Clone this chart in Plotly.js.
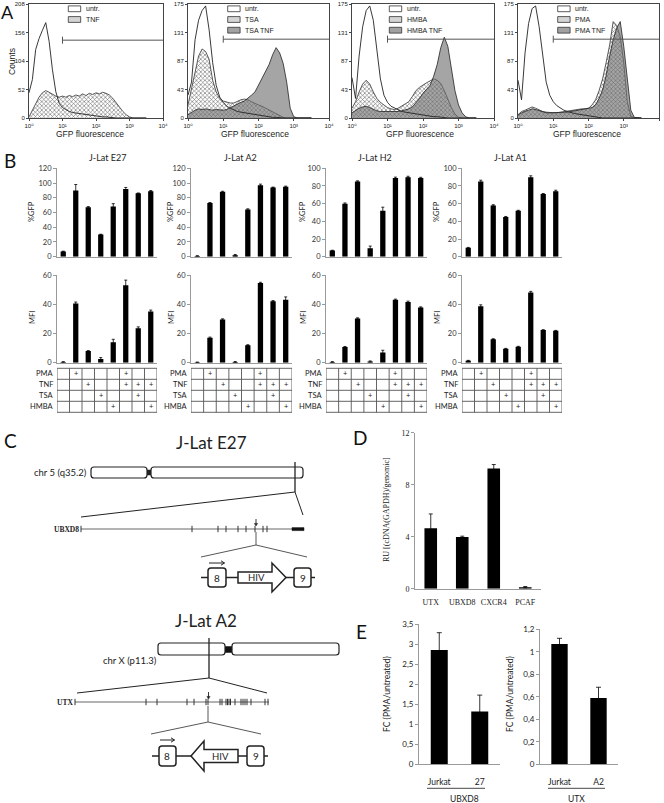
<!DOCTYPE html>
<html><head><meta charset="utf-8">
<script src="https://cdn.plot.ly/plotly-3.0.1.min.js"></script>
<style>html,body{margin:0;padding:0;background:#fff}#chart{width:664px;height:803px}</style>
</head><body><div id="chart"></div>
<script>
// ---------------- DATA ----------------
// Panel A: GFP fluorescence histograms (bins = log10 fluorescence)
const LOG_BINS=[0.0,0.1,0.2,0.3,0.4,0.5,0.6,0.7,0.8,0.9,1.0,1.1,1.2,1.3,1.4,1.5,1.6,1.7,1.8,1.9,2.0,2.1,2.2,2.3,2.4,2.5,2.6,2.7,2.8,2.9,3.0,3.1,3.2,3.3,3.4,3.5];
const UNTR_1=[46,70,125,145,160,174,140,88,48,27,19,15,12,10,9,8,7,6,5,4,3,3,2,2,1,1,0,0,0,0,0,0,0,0,0,0];
const TNF_1=[2,15,28,38,46,50,47,43,40,38,40,38,41,39,42,40,44,41,45,43,46,44,47,45,42,36,28,19,12,6,2,0,0,0,0,0];
const UNTR_2=[35,55,120,150,165,172,135,85,50,32,24,18,15,12,10,9,8,7,6,5,4,3,2,2,1,1,0,0,0,0,0,0,0,0,0,0];
const TSA_2=[20,45,72,95,106,102,90,58,40,30,26,24,23,23,26,28,29,28,25,22,20,18,15,12,10,6,3,1,0,0,0,0,0,0,0,0];
const TSATNF_2=[5,9,12,14,13,14,13,12,13,12,12,13,16,18,21,24,26,30,35,40,50,60,70,82,97,108,100,84,55,15,2,0,0,0,0,0];
const UNTR_3=[62,30,95,140,165,172,150,100,60,35,24,18,15,12,10,9,8,7,6,5,5,4,3,2,2,1,1,0,0,0,0,0,0,0,0,0];
const HMBA_3=[15,25,40,52,58,52,40,30,24,20,16,14,13,15,18,21,25,33,42,47,51,54,57,60,58,53,42,28,16,6,1,0,0,0,0,0];
const HMBATNF_3=[8,12,15,17,18,16,13,11,10,10,9,9,10,10,11,12,14,17,23,30,38,44,50,64,82,108,124,110,75,42,20,8,2,0,0,0];
const UNTR_4=[58,28,100,145,168,172,140,95,55,35,25,19,15,12,10,8,7,6,5,4,3,2,2,1,0,0,0,0,0,0,0,0,0,0,0,0];
const PMA_4=[5,10,12,14,17,15,12,10,9,8,8,8,9,9,10,11,12,13,14,14,15,20,28,42,60,85,112,148,142,125,85,25,3,0,0,0];
const PMATNF_4=[4,8,10,12,14,13,11,9,8,8,8,8,8,9,9,10,11,12,13,13,14,16,20,30,43,65,95,120,138,148,110,60,12,1,0,0];
const A_NAMES=[['untr.','TNF'],['untr.','TSA','TSA TNF'],['untr.','HMBA','HMBA TNF'],['untr.','PMA','PMA TNF']];
const A_YTICKS_1=[0,52,104,156,208], A_YTEXT_1=['0','52','104','156','208'];
const A_YTICKS=[0,43.75,87.5,131.25,175], A_YTEXT=['0','43','87','131','175'];
const A_XTICKS=[0,1,2,3,4], A_XTEXT=['10\u2070','10\u00B9','10\u00B2','10\u00B3','10\u2074'];
const A_GATE=[142,121,121,121];

// Panel B
const CONDITIONS=['untr.','PMA','TNF','TSA','HMBA','PMA+TNF','TSA+TNF','HMBA+TNF'];
const CELL_LINES=['J-Lat E27','J-Lat A2','J-Lat H2','J-Lat A1'];
const GFP_E27=[7,90,67,30,68,92,86,89],   GFP_E27_ERR=[0.5,8,1,0.5,4,2,0.5,0.8];
const GFP_A2=[1,73,88,2,64,97,94,95],      GFP_A2_ERR=[0.3,0.5,0.8,1,1,1.5,0.5,0.8];
const GFP_H2=[7,60,85,9.5,52,89,90,89],    GFP_H2_ERR=[0.3,0.8,0.8,2.5,4,1,1,0.8];
const GFP_A1=[10,85,58,45,52,90,71,74],    GFP_A1_ERR=[0.5,1.5,0.8,0.5,0.5,1.5,0.5,1.2];
const MFI_E27=[0.5,40.5,8,2.5,14,53,23.5,35], MFI_E27_ERR=[0.2,1,0.3,1,2,3.5,1,1];
const MFI_A2=[0.3,17,29.5,0.5,12,54.5,42,43], MFI_A2_ERR=[0.1,0.5,0.5,0.3,0.3,0.5,0.5,2];
const MFI_H2=[0.5,10.8,30.2,0.8,7,43,41.6,37.7], MFI_H2_ERR=[0.2,0.3,0.5,0.4,1.5,0.5,0.5,0.5];
const MFI_A1=[1.4,38.6,16.1,9.5,10.9,48,22.3,21.8], MFI_A1_ERR=[0.2,1,0.3,0.3,0.3,0.8,0.3,0.3];
const TREAT_ROWS=['PMA','TNF','TSA','HMBA'];
const TREAT_PMA=[0,1,0,0,0,1,0,0];
const TREAT_TNF=[0,0,1,0,0,1,1,1];
const TREAT_TSA=[0,0,0,1,0,0,1,0];
const TREAT_HMBA=[0,0,0,0,1,0,0,1];

// Panel C: gene structures (exon positions along the drawn gene line)
const UBXD8_EXONS=[81,192,218,226,238,246,255,263,267];
const UTX_EXONS=[75,146,157,187,194,206,208,220,222,226,227.5,229,230.5,235,241,243,245,247,251,265,268];

// Panel D
const D_GENES=['UTX','UBXD8','CXCR4','PCAF'];
const D_RU=[4.65,3.98,9.25,0.12];
const D_ERR=[1.1,0.06,0.3,0.05];

// Panel E
const E_UBXD8_CELLS=['Jurkat','27'], E_UBXD8_FC=[2.86,1.32], E_UBXD8_ERR=[0.43,0.41];
const E_UTX_CELLS=['Jurkat','A2'],   E_UTX_FC=[1.07,0.59],   E_UTX_ERR=[0.05,0.095];

// ---------------- LAYOUT HELPERS ----------------
const W=664,H=803;
const X=v=>v/W, Y=v=>1-v/H;
const dX=(a,b)=>[a/W,b/W], dY=(t,b)=>[1-b/H,1-t/H];
const id=i=>i===1?'':String(i);
const traces=[];
const layout={width:W,height:H,autosize:false,margin:{l:0,r:0,t:0,b:0,pad:0},
  paper_bgcolor:'#fff',plot_bgcolor:'rgba(0,0,0,0)',showlegend:false,separators:',.',
  font:{family:'Lato, sans-serif',size:8,color:'#222'},shapes:[],annotations:[]};
const SH=layout.shapes, AN=layout.annotations;
function ann(text,x,y,o){AN.push(Object.assign({text,xref:'paper',yref:'paper',x:X(x),y:Y(y),showarrow:false,xanchor:'center',yanchor:'middle',borderpad:0,font:{family:'Lato',size:9,color:'#222'}},o||{}));}
function line(x0,y0,x1,y1,w,c){SH.push({type:'line',xref:'paper',yref:'paper',x0:X(x0),y0:Y(y0),x1:X(x1),y1:Y(y1),line:{color:c||'#222',width:w||1}});}
function rect(x0,y0,x1,y1,fill,lc,lw){SH.push({type:'rect',xref:'paper',yref:'paper',x0:X(x0),y0:Y(y0),x1:X(x1),y1:Y(y1),fillcolor:fill,line:{color:lc||'#222',width:lw===undefined?1:lw}});}
function P(x,y){return X(x).toFixed(5)+','+Y(y).toFixed(5);}
function rrect(x0,y0,x1,y1,r,fill,lw){
  const d='M'+P(x0+r,y0)+' L'+P(x1-r,y0)+' Q'+P(x1,y0)+' '+P(x1,y0+r)+' L'+P(x1,y1-r)+' Q'+P(x1,y1)+' '+P(x1-r,y1)+
    ' L'+P(x0+r,y1)+' Q'+P(x0,y1)+' '+P(x0,y1-r)+' L'+P(x0,y0+r)+' Q'+P(x0,y0)+' '+P(x0+r,y0)+' Z';
  SH.push({type:'path',xref:'paper',yref:'paper',path:d,fillcolor:fill||'#fff',line:{color:'#222',width:lw||1.2}});
}
function poly(pts,fill,lw,lc){
  SH.push({type:'path',xref:'paper',yref:'paper',path:'M'+pts.map(p=>P(p[0],p[1])).join(' L')+' Z',fillcolor:fill||'#fff',line:{color:lc||'#222',width:lw===undefined?1.5:lw}});
}
function openPath(pts,lw){
  SH.push({type:'path',xref:'paper',yref:'paper',path:'M'+pts.map(p=>P(p[0],p[1])).join(' L'),line:{color:'#222',width:lw||1}});
}
function arrowRight(x0,x1,y){line(x0,y,x1,y,1);openPath([[x1-3.5,y-2.2],[x1,y],[x1-3.5,y+2.2]],1);}
function arrowDown(x,y0,y1){line(x,y0,x,y1-2,0.9);poly([[x-1.6,y1-2.6],[x+1.6,y1-2.6],[x,y1]],'#222',0.5);}

// ---------------- PANEL A ----------------
const A_X=[[29,163],[188,329],[352,494],[518,659]];
const A_DATA=[[UNTR_1,TNF_1,null],[UNTR_2,TSA_2,TSATNF_2],[UNTR_3,HMBA_3,HMBATNF_3],[UNTR_4,PMA_4,PMATNF_4]];
const A_LEGX=[68.3,227.7,389.3,557.7];
const A_TITLEX=[90,255,420,587];
A_DATA.forEach((d,k)=>{
  const i=k+1, xa='x'+id(i), ya='y'+id(i);
  const ymax=k===0?208:175;
  traces.push({type:'scatter',mode:'lines',x:LOG_BINS,y:d[1],xaxis:xa,yaxis:ya,fill:'tozeroy',
    fillpattern:{shape:'x',size:3,solidity:0.35,fgcolor:'#666',bgcolor:'#fff'},
    line:{color:'#333',width:0.8},name:A_NAMES[k][1],hoverinfo:'skip'});
  if(d[2]) traces.push({type:'scatter',mode:'lines',x:LOG_BINS,y:d[2],xaxis:xa,yaxis:ya,fill:'tozeroy',
    fillcolor:'rgba(110,110,110,0.62)',line:{color:'#222',width:0.8},name:A_NAMES[k][2],hoverinfo:'skip'});
  traces.push({type:'scatter',mode:'lines',x:LOG_BINS,y:d[0],xaxis:xa,yaxis:ya,
    line:{color:'#222',width:0.9},name:'untr.',hoverinfo:'skip'});
  layout['xaxis'+id(i)]={domain:dX(A_X[k][0],A_X[k][1]),range:[0,4],anchor:ya,showline:true,mirror:true,
    linecolor:'#444',linewidth:1,ticks:'outside',ticklen:2,tickcolor:'#444',tickvals:A_XTICKS,ticktext:A_XTEXT,
    tickfont:{family:'Liberation Sans, DejaVu Sans',size:6,color:'#222'},showgrid:false,zeroline:false,fixedrange:true};
  layout['yaxis'+id(i)]={domain:dY(4,118),range:[0,ymax],anchor:xa,showline:true,mirror:true,
    linecolor:'#444',linewidth:1,ticks:'outside',ticklen:2,tickcolor:'#444',
    tickvals:k===0?A_YTICKS_1:A_YTICKS,ticktext:k===0?A_YTEXT_1:A_YTEXT,
    tickfont:{family:'Liberation Sans',size:6,color:'#222'},showgrid:false,zeroline:false,fixedrange:true};
  const g=A_GATE[k], tk=k===0?6.4:5.4;
  SH.push({type:'line',xref:xa,yref:ya,x0:1,x1:4,y0:g,y1:g,line:{color:'#555',width:1}});
  SH.push({type:'line',xref:xa,yref:ya,x0:1,x1:1,y0:g-tk,y1:g+tk,line:{color:'#555',width:1}});
  const sw=['#fff','#d4d4d4','#a2a2a2'];
  A_NAMES[k].forEach((nm,j)=>{
    const yc=8.8+j*10.7;
    rect(A_LEGX[k],yc-2.9,A_LEGX[k]+12.4,yc+2.9,sw[j],'#333',0.8);
    ann(nm,A_LEGX[k]+16.5,yc,{xanchor:'left',font:{family:'Liberation Sans',size:7,color:'#222'}});
  });
  ann('GFP fluorescence',A_TITLEX[k],133.5,{font:{family:'Liberation Sans',size:8.5,color:'#222'}});
});
ann('Counts',12,62,{textangle:-90,font:{family:'Liberation Sans',size:8.5,color:'#222'}});
ann('A',0,12,{xanchor:'left',font:{family:'Lato',size:18,color:'#111'}});

// ---------------- PANEL B ----------------
const B_X=[[57,157],[191,292],[326,427],[462,562]];
const B_GFP=[[GFP_E27,GFP_E27_ERR],[GFP_A2,GFP_A2_ERR],[GFP_H2,GFP_H2_ERR],[GFP_A1,GFP_A1_ERR]];
const B_MFI=[[MFI_E27,MFI_E27_ERR],[MFI_A2,MFI_A2_ERR],[MFI_H2,MFI_H2_ERR],[MFI_A1,MFI_A1_ERR]];
const B_GFPMAX=[120,120,100,100];
const B_TITLEX=[107,240,375,510];
const B_YTITLEX=[32,171,303,437];
const TREAT=[TREAT_PMA,TREAT_TNF,TREAT_TSA,TREAT_HMBA];
const TAB_Y=[368.3,379.3,390.3,401.3,412.3];
function barAxes(i,dom,domy,range,dtick){
  const xa='x'+id(i), ya='y'+id(i);
  layout['xaxis'+id(i)]={domain:dom,type:'category',range:[-0.5,7.5],anchor:ya,showline:true,linecolor:'#9a9a9a',linewidth:1,
    ticks:'',showticklabels:false,showgrid:false,zeroline:false,fixedrange:true};
  layout['yaxis'+id(i)]={domain:domy,range:range,dtick:dtick,tick0:0,anchor:xa,showline:true,linecolor:'#9a9a9a',linewidth:1,
    ticks:'outside',ticklen:3,tickcolor:'#9a9a9a',tickfont:{family:'Lato',size:7.5,color:'#333'},showgrid:false,zeroline:false,fixedrange:true};
}
for(let k=0;k<4;k++){
  const ig=5+k, im=9+k;
  barAxes(ig,dX(B_X[k][0],B_X[k][1]),dY(168.3,256.7),[0,B_GFPMAX[k]],20);
  barAxes(im,dX(B_X[k][0],B_X[k][1]),dY(275,362.7),[0,60],20);
  [[ig,B_GFP[k]],[im,B_MFI[k]]].forEach(([i,d])=>{
    traces.push({type:'bar',x:CONDITIONS,y:d[0],xaxis:'x'+id(i),yaxis:'y'+id(i),width:0.42,
      marker:{color:'#000',line:{width:0}},
      error_y:{type:'data',array:d[1],symmetric:true,visible:true,color:'#000',thickness:0.8,width:1.5},hoverinfo:'skip'});
  });
  ann(CELL_LINES[k],B_TITLEX[k],157,{font:{family:'Lato',size:9,color:'#222'}});
  ann('%GFP',B_YTITLEX[k],212,{textangle:-90,font:{family:'Lato',size:7.5,color:'#222'}});
  ann('MFI',B_YTITLEX[k],318,{textangle:-90,font:{family:'Lato',size:7.5,color:'#222'}});
  const xr='x'+id(im);
  TAB_Y.forEach(yy=>SH.push({type:'line',xref:xr,yref:'paper',x0:-0.5,x1:7.5,y0:Y(yy),y1:Y(yy),line:{color:'#555',width:0.9}}));
  for(let c=0;c<=8;c++) SH.push({type:'line',xref:xr,yref:'paper',x0:c-0.5,x1:c-0.5,y0:Y(TAB_Y[0]),y1:Y(TAB_Y[4]),line:{color:'#555',width:0.9}});
  TREAT_ROWS.forEach((rn,r)=>{
    const yc=(TAB_Y[r]+TAB_Y[r+1])/2;
    ann(rn,B_X[k][0]-3.5,yc,{xanchor:'right',font:{family:'Lato',size:7.5,color:'#222'}});
    TREAT[r].forEach((v,c)=>{ if(v) AN.push({text:'+',xref:xr,yref:'paper',x:c,y:Y(yc),showarrow:false,borderpad:0,
      xanchor:'center',yanchor:'middle',font:{family:'Lato',size:7.5,color:'#222'}}); });
  });
}
ann('B',3,160,{xanchor:'left',font:{family:'Lato',size:19,color:'#111'}});

// ---------------- PANEL C ----------------
ann('C',3,440,{xanchor:'left',font:{family:'Lato',size:19,color:'#111'}});
ann('J-Lat E27',212,442,{font:{family:'Lato',size:17,color:'#222'}});
ann('chr 5 (q35.2)',88,472,{xanchor:'right',font:{family:'Lato',size:9.5,color:'#222'}});
rect(145,470,153,475,'#222','#222',0.5);
rrect(91,467,147,478,3);
rrect(151,467,303,478,3);
line(295,462,295,492,1.3);
line(295,492,81,517,1); line(295,492,303,515,1);
line(81,529,292,529,0.9,'#555');
rect(292,527.6,304,530.6,'#111','#111',0.5);
UBXD8_EXONS.forEach(x=>line(x,525.8,x,532.2,1,'#333'));
ann('UBXD8',80,529,{xanchor:'right',font:{family:'Liberation Serif',size:7.5,color:'#222',weight:'bold'}});
arrowDown(256,519,526);
line(256,532,256,545,0.9,'#444'); line(256,545,201,557,0.9,'#444'); line(256,545,307,557,0.9,'#444');
line(201,577.5,208,577.5,1.5); line(226,577.5,238,577.5,1.5); line(286,577.5,294,577.5,1.5); line(311,577.5,315,577.5,1.5);
rrect(208,568,226,587,3,'#fff',1.5); ann('8',217,577.5,{font:{family:'Lato',size:10,color:'#222'}});
poly([[238,572],[272,572],[272,563],[286,577.5],[272,592],[272,583],[238,583]],'#fff',1.5);
ann('HIV',256,577.5,{font:{family:'Lato',size:9.5,color:'#222'}});
rrect(294,568,311,587,3,'#fff',1.5); ann('9',302.5,577.5,{font:{family:'Lato',size:10,color:'#222'}});
arrowRight(209,224.5,563);

ann('J-Lat A2',206,620,{font:{family:'Lato',size:17,color:'#222'}});
ann('chr X (p11.3)',158,660,{xanchor:'right',font:{family:'Lato',size:9.5,color:'#222'}});
rect(223,646.5,234,652.5,'#111','#111',0.5);
rrect(158,643,225,655,3);
rrect(232,643,339,655,3);
line(209,638,209,678,1.3);
line(209,678,77,693,1); line(209,678,267,693,1);
line(75,702,269,702,0.9,'#555');
UTX_EXONS.forEach(x=>line(x,698.8,x,705.2,1,'#333'));
ann('UTX',74,702,{xanchor:'right',font:{family:'Liberation Serif',size:7.5,color:'#222',weight:'bold'}});
arrowDown(208.5,692,699);
line(208,706,208,722,0.9,'#444'); line(208,722,151,734,0.9,'#444'); line(208,722,261,734,0.9,'#444');
line(152,756,159,756,1.5); line(176,756,191,756,1.5); line(238,756,247,756,1.5); line(264,756,268,756,1.5);
rrect(159,746,176,766,3,'#fff',1.5); ann('8',167.5,756,{font:{family:'Lato',size:10,color:'#222'}});
poly([[191,756],[204,741],[204,749.5],[238,749.5],[238,762.5],[204,762.5],[204,771]],'#fff',1.5);
ann('HIV',221,756,{font:{family:'Lato',size:9.5,color:'#222'}});
rrect(247,746,264,766,3,'#fff',1.5); ann('9',255.5,756,{font:{family:'Lato',size:10,color:'#222'}});
arrowRight(160,174.5,740);

// ---------------- PANEL D ----------------
layout.xaxis13={domain:dX(415,541),type:'category',range:[-0.5,3.5],anchor:'y13',showline:true,linecolor:'#9a9a9a',linewidth:1,
  ticks:'',ticklabelstandoff:6,tickfont:{family:'Liberation Serif',size:8,color:'#222'},showgrid:false,zeroline:false,fixedrange:true};
layout.yaxis13={domain:dY(432.7,588.7),range:[0,12],tickvals:[0,4,8,12],anchor:'x13',showline:true,linecolor:'#9a9a9a',linewidth:1,
  ticks:'outside',ticklen:3,tickcolor:'#9a9a9a',tickfont:{family:'Liberation Serif',size:8,color:'#222'},showgrid:false,zeroline:false,fixedrange:true};
traces.push({type:'bar',x:D_GENES,y:D_RU,xaxis:'x13',yaxis:'y13',width:0.4,marker:{color:'#000'},
  error_y:{type:'data',array:D_ERR,visible:true,color:'#000',thickness:0.8,width:2},hoverinfo:'skip'});
ann('RU [(cDNA(GAPDH)/genomic]',386,510,{textangle:-90,font:{family:'Liberation Serif',size:8,color:'#222'}});
ann('D',352,438,{xanchor:'left',font:{family:'Lato',size:19,color:'#111'}});

// ---------------- PANEL E ----------------
function eAxes(i,xd,yd,range,dtick){
  layout['xaxis'+i]={domain:xd,type:'category',range:[-0.5,1.5],anchor:'y'+i,showline:true,linecolor:'#9a9a9a',linewidth:1,
    ticks:'',ticklabelstandoff:9,tickfont:{family:'Lato',size:8.5,color:'#222'},showgrid:false,zeroline:false,fixedrange:true};
  layout['yaxis'+i]={domain:yd,range:range,dtick:dtick,tick0:0,anchor:'x'+i,showline:true,linecolor:'#9a9a9a',linewidth:1,
    ticks:'outside',ticklen:3,tickcolor:'#9a9a9a',tickfont:{family:'Lato',size:8,color:'#222'},showgrid:false,zeroline:false,fixedrange:true};
}
eAxes(14,dX(419,500),dY(624.3,764.3),[0,3.5],0.5);
eAxes(15,dX(540,618),dY(629.3,764.3),[0,1.2],0.2);
traces.push({type:'bar',x:E_UBXD8_CELLS,y:E_UBXD8_FC,xaxis:'x14',yaxis:'y14',width:0.42,marker:{color:'#000'},
  error_y:{type:'data',array:E_UBXD8_ERR,visible:true,color:'#000',thickness:0.8,width:2.5},hoverinfo:'skip'});
traces.push({type:'bar',x:E_UTX_CELLS,y:E_UTX_FC,xaxis:'x15',yaxis:'y15',width:0.42,marker:{color:'#000'},
  error_y:{type:'data',array:E_UTX_ERR,visible:true,color:'#000',thickness:0.8,width:2.5},hoverinfo:'skip'});
ann('FC (PMA/untreated)',387,694,{textangle:-90,font:{family:'Lato',size:8.5,color:'#222'}});
ann('FC (PMA/untreated)',510,694,{textangle:-90,font:{family:'Lato',size:8.5,color:'#222'}});
line(427,788.3,485,788.3,0.9,'#333'); ann('UBXD8',464,799,{font:{family:'Lato',size:8.5,color:'#222'}});
line(548,788.3,605,788.3,0.9,'#333'); ann('UTX',576,799,{font:{family:'Lato',size:8.5,color:'#222'}});
ann('E',355,631,{xanchor:'left',font:{family:'Lato',size:19,color:'#111'}});

Plotly.newPlot('chart',traces,layout,{staticPlot:true,displayModeBar:false});
</script></body></html>
